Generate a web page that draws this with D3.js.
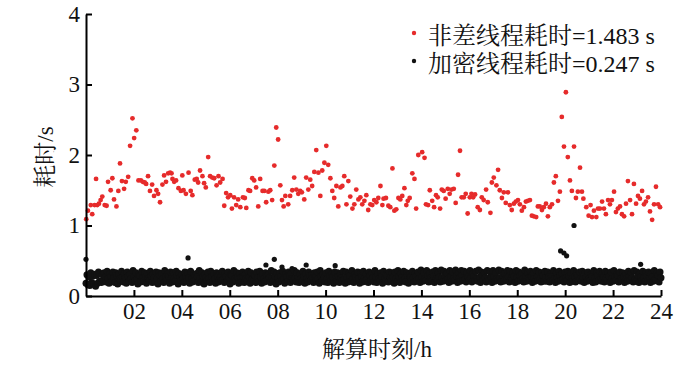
<!DOCTYPE html>
<html>
<head>
<meta charset="utf-8">
<script src="https://cdn.jsdelivr.net/npm/d3@7"></script>
<style>
  body { margin: 0; background: #fff; }
  svg { display: block; }
  svg text { font-family: "Liberation Serif", "Noto Serif CJK SC", "Noto Sans CJK SC", serif; fill: #111; }
</style>
</head>
<body>
<div id="chart"></div>
<script>
// Red series (非差线程): time of day in hours and cost in seconds
const redTimes = [
  0.01, 0.08, 0.20, 0.26, 0.36, 0.47, 0.42, 0.54, 0.61, 0.68, 0.78, 0.86, 0.92, 1.03, 1.10, 1.17, 1.27, 1.35, 1.42, 1.50,
  1.59, 1.66, 1.76, 1.84, 1.94, 2.01, 2.10, 2.19, 2.29, 2.37, 2.45, 2.51, 2.59, 2.67, 2.76, 2.84, 2.94, 3.01, 3.09, 3.19,
  3.26, 3.34, 3.43, 3.51, 3.57, 3.61, 3.68, 3.76, 3.86, 3.96, 4.02, 4.07,
  4.17, 4.28, 4.37, 4.44, 4.54, 4.62, 4.68, 4.76, 4.86, 4.93, 5.00, 5.10, 5.18, 5.27, 5.35, 5.45, 5.53, 5.60, 5.70, 5.77,
  5.85, 5.93, 6.02, 6.09, 6.18, 6.27, 6.35, 6.44, 6.55, 6.63, 6.69, 6.78, 6.85, 6.94, 7.02, 7.10, 7.19, 7.27, 7.37, 7.44,
  7.52, 7.61, 7.69, 7.77, 7.86, 7.94, 8.02, 8.11, 8.18, 8.25,
  8.32, 8.44, 8.52, 8.61, 8.69, 8.78, 8.86, 8.94, 9.01, 9.11, 9.19, 9.28, 9.36, 9.44, 9.53, 9.61, 9.70, 9.78, 9.86, 9.95,
  10.03, 10.11, 10.20, 10.28, 10.36, 10.45, 10.53, 10.62, 10.70, 10.78, 10.87, 10.95, 11.03, 11.12, 11.20, 11.28, 11.37,
  11.45, 11.53, 11.62, 11.70, 11.78, 11.87, 11.95, 12.03, 12.12, 12.20, 12.29, 12.37, 12.42,
  12.52, 12.62, 12.70, 12.79, 12.87, 12.95, 13.04, 13.12, 13.20, 13.29, 13.37, 13.43, 13.51, 13.62, 13.71, 13.78, 13.87,
  14.03, 14.13, 14.19, 14.28, 14.35, 14.45, 14.53, 14.61, 14.68, 14.78, 14.85, 14.93, 15.01, 15.10, 15.18, 15.25, 15.35,
  15.43, 15.53, 15.61, 15.68, 15.77, 15.85, 15.93, 16.02, 16.09, 16.16, 16.24, 16.35, 16.44, 16.52, 16.60,
  16.70, 16.77, 16.88, 16.94, 17.02, 17.13, 17.20, 17.27, 17.36, 17.44, 17.52, 17.61, 17.69, 17.77, 17.86, 17.94, 18.03,
  18.11, 18.19, 18.28, 18.36, 18.44, 18.53, 18.61, 18.69, 18.79, 18.86, 18.94, 19.03, 19.11, 19.20, 19.28, 19.36, 19.45,
  19.53, 19.61, 19.70, 19.78, 19.86, 19.95, 20.03, 20.11, 20.20, 20.28, 20.37, 20.45, 20.53, 20.62, 20.70, 20.76,
  20.88, 20.98, 21.06, 21.12, 21.20, 21.30, 21.37, 21.45, 21.54, 21.62, 21.70, 21.79, 21.87, 21.95, 22.04, 22.12, 22.20,
  22.29, 22.37, 22.46, 22.54, 22.62, 22.71, 22.79, 22.87, 22.96, 23.04, 23.12, 23.21, 23.29, 23.37, 23.46, 23.54, 23.63,
  23.71, 23.79, 23.88, 23.96
];
const redValues = [
  1.09, 1.21, 1.29, 1.16, 1.29, 1.29, 1.66, 1.31, 1.36, 1.41, 1.29, 1.28, 1.62, 1.50, 1.67, 1.37, 1.27, 1.49, 1.88, 1.63,
  1.52, 1.62, 1.69, 2.13, 2.52, 2.24, 2.35, 1.64, 1.64, 1.62, 1.61, 1.59, 1.70, 1.49, 1.58, 1.42, 1.50, 1.45, 1.33, 1.58,
  1.71, 1.62, 1.74, 1.75, 1.74, 1.66, 1.62, 1.64, 1.53, 1.49, 1.71, 1.50,
  1.45, 1.75, 1.49, 1.43, 1.65, 1.66, 1.61, 1.78, 1.70, 1.60, 1.54, 1.97, 1.70, 1.68, 1.67, 1.57, 1.70, 1.61, 1.66, 1.28,
  1.46, 1.40, 1.43, 1.24, 1.40, 1.29, 1.37, 1.26, 1.40, 1.39, 1.25, 1.50, 1.49, 1.67, 1.64, 1.54, 1.27, 1.66, 1.49, 1.49,
  1.33, 1.48, 1.50, 1.36, 1.85, 2.39, 2.22, 1.57, 1.36, 1.27,
  1.42, 1.30, 1.42, 1.50, 1.68, 1.51, 1.45, 1.49, 1.47, 1.37, 1.68, 1.51, 1.65, 1.56, 1.76, 2.07, 1.75, 1.42, 1.78, 1.89,
  2.13, 1.86, 1.67, 1.49, 1.39, 1.56, 1.27, 1.54, 1.56, 1.70, 1.30, 1.63, 1.41, 1.24, 1.30, 1.51, 1.37,
  1.40, 1.30, 1.35, 1.43, 1.22, 1.30, 1.29, 1.36, 1.33, 1.39, 1.56, 1.29, 1.38,
  1.39, 1.28, 1.26, 1.81, 1.21, 1.23, 1.39, 1.37, 1.42, 1.53, 1.29, 1.35, 1.39, 1.74, 1.66, 1.24, 2.00,
  2.04, 1.96, 1.30, 1.29, 1.50, 1.35, 1.26, 1.43, 1.40, 1.24, 1.51, 1.49, 1.38, 1.52, 1.45, 1.51, 1.52,
  1.32, 1.72, 2.06, 1.40, 1.40, 1.45, 1.17, 1.40, 1.45, 1.40, 1.44, 1.26, 1.22, 1.40, 1.36,
  1.51, 1.33, 1.18, 1.61, 1.68, 1.57, 1.79, 1.50, 1.39, 1.47, 1.32, 1.47, 1.29, 1.22, 1.31, 1.34, 1.36,
  1.30, 1.21, 1.26, 1.34, 1.35, 1.36, 1.14, 1.13, 1.12, 1.27, 1.27, 1.22, 1.26, 1.31, 1.13, 1.26, 1.30,
  1.61, 1.70, 1.35, 1.48, 2.54, 2.12, 2.89, 1.97, 1.64, 1.49, 2.12, 1.39, 1.48, 1.82, 1.48, 1.38,
  1.26, 1.14, 1.29, 1.12, 1.21, 1.12, 1.24, 1.24, 1.34, 1.24, 1.16, 1.36, 1.30, 1.36, 1.48, 1.19, 1.24,
  1.27, 1.16, 1.13, 1.31, 1.63, 1.36, 1.16, 1.59, 1.31, 1.42, 1.38, 1.49, 1.30, 1.34, 1.40, 1.20, 1.08,
  1.30, 1.55, 1.30, 1.26
];

// Black series (加密线程): evenly spaced samples over the day, cost in 1/100 s
const blackValues = (
  "18 30 16 27 15 33 19 28 17 31 14 29 18 34 21 32 19 30 22 33 " +
  "27 20 35 25 18 32 28 21 34 26 19 33 29 17 31 24 22 35 27 20 " +
  "32 26 18 34 28 21 31 25 19 36 27 22 33 24 17 30 29 20 35 26 " +
  "21 33 27 18 32 25 22 35 28 19 31 26 20 34 24 17 33 29 21 32 " +
  "25 19 36 27 22 31 28 18 34 26 20 33 24 21 35 29 17 32 27 22 " +
  "30 25 19 34 28 21 33 26 18 35 24 20 31 29 22 32 27 19 36 25 " +
  "20 33 28 17 31 26 22 34 25 19 35 27 21 32 24 18 33 29 20 31 " +
  "27 22 35 24 19 32 28 21 34 26 17 31 29 20 36 25 22 33 27 18 " +
  "32 26 20 34 28 19 31 25 22 35 27 18 33 24 21 30 29 19 34 26 " +
  "21 35 27 18 32 24 20 33 29 22 31 26 19 36 25 21 34 28 17 32 " +
  "26 20 33 28 22 35 24 18 31 27 21 34 29 19 32 25 22 36 26 20 " +
  "33 27 19 31 25 21 35 28 18 32 24 20 34 29 22 30 26 19 33 27 " +
  "22 34 25 18 36 28 21 31 26 20 33 24 19 35 29 22 32 27 18 34 " +
  "25 21 33 28 19 31 26 22 35 24 18 34 27 20 32 29 21 36 25 19 " +
  "31 27 22 34 25 18 33 28 20 35 26 21 31 24 19 34 29 22 32 26 " +
  "20 36 27 19 32 25 22 33 28 18 35 24 21 31 29 20 34 26 22 33 " +
  "27 18 34 25 21 36 28 19 32 26 22 35 24 20 33 29 18 31 27 21 " +
  "35 26 20 32 28 22 34 25 19 37 27 21 33 24 22 36 29 20 32 26 " +
  "21 34 28 19 36 25 22 33 27 20 37 26 21 35 29 22 32 24 19 36 " +
  "27 21 34 25 22 37 28 19 33 26 21 36 29 22 35 24 20 33 27 22 " +
  "36 26 20 32 28 22 35 25 21 37 27 19 34 29 22 33 26 20 36 25 " +
  "22 34 27 19 36 28 21 33 25 22 37 26 20 35 29 21 32 24 22 36 " +
  "27 20 35 25 22 33 28 19 36 26 21 34 29 22 32 25 20 37 27 21 " +
  "33 26 22 35 28 19 32 25 21 36 27 22 34 24 20 33 29 21 35 26 " +
  "21 34 27 20 31 28 22 36 25 19 33 26 21 35 29 22 32 24 20 34 " +
  "26 22 35 28 19 33 25 21 36 27 20 32 29 22 34 24 21 35 26 19 " +
  "33 27 21 34 25 22 31 28 19 36 26 20 33 29 22 35 24 21 32 27 " +
  "20 35 26 22 33 28 19 34 25 21 36 27 22 31 29 20 34 24 22 33 " +
  "27 19 32 25 21 35 28 22 33 26 20 36 24 21 34 29 19 32 27 22 " +
  "35 26 20 33 28 22 34 25 19 32 27 21 36 24 22 33 29 20 34 26"
).split(" ").map(d => +d / 100);

// Black outliers above the band
const blackOutTimes = [0.0, 4.26, 7.51, 7.86, 8.18, 8.60, 9.19, 10.40, 19.81, 19.95, 20.06, 20.37, 23.15];
const blackOutValues = [0.52, 0.54, 0.44, 0.52, 0.41, 0.39, 0.44, 0.43, 0.64, 0.61, 0.57, 1.00, 0.45];

const xTicks = [2, 4, 6, 8, 10, 12, 14, 16, 18, 20, 22, 24];
const yTicks = [0, 1, 2, 3, 4];
const legendLabels = ["非差线程耗时=1.483 s", "加密线程耗时=0.247 s"];

const width = 700, height = 366;
const margin = { top: 14, right: 39, bottom: 70, left: 86 };
const red = "#e62b2b", black = "#111";

const svg = d3.select("#chart").append("svg")
  .attr("width", width)
  .attr("height", height);

const x = d3.scaleLinear().domain([0, 24]).range([margin.left, width - margin.right]);
const y = d3.scaleLinear().domain([0, 4]).range([height - margin.bottom, margin.top]);

// black band first, red on top
svg.append("g").selectAll("circle")
  .data(blackValues.map((v, i) => ({ t: 24 * i / (blackValues.length - 1), v })))
  .join("circle")
  .attr("cx", d => x(d.t))
  .attr("cy", d => y(d.v))
  .attr("r", 3.5)
  .attr("fill", black);

svg.append("g").selectAll("circle")
  .data(blackOutTimes.map((t, i) => ({ t, v: blackOutValues[i] })))
  .join("circle")
  .attr("cx", d => x(d.t))
  .attr("cy", d => y(d.v))
  .attr("r", 2.6)
  .attr("fill", black);

svg.append("g").selectAll("circle")
  .data(redTimes.map((t, i) => ({ t, v: redValues[i] })))
  .join("circle")
  .attr("cx", d => x(d.t))
  .attr("cy", d => y(d.v))
  .attr("r", 2.4)
  .attr("fill", red);

// axes, ticks pointing inward
const xAxis = svg.append("g")
  .attr("transform", `translate(0,${height - margin.bottom})`)
  .call(d3.axisBottom(x).tickValues(xTicks).tickSizeInner(-6).tickSizeOuter(0)
    .tickPadding(7).tickFormat(d3.format("02d")));

const yAxis = svg.append("g")
  .attr("transform", `translate(${margin.left},0)`)
  .call(d3.axisLeft(y).tickValues(yTicks).tickSizeInner(-6).tickSizeOuter(0)
    .tickPadding(6).tickFormat(d3.format("d")));

[xAxis, yAxis].forEach(g => {
  g.attr("font-family", null);
  g.selectAll("path, line").attr("stroke", "#000").attr("stroke-width", 2);
  g.selectAll("text").attr("fill", null).style("font-size", "23px");
});

// axis titles
svg.append("text")
  .attr("x", 377).attr("y", 357)
  .attr("text-anchor", "middle")
  .style("font-size", "23px")
  .text("解算时刻/h");

svg.append("text")
  .attr("transform", "translate(53,157) rotate(-90)")
  .attr("text-anchor", "middle")
  .style("font-size", "23px")
  .text("耗时/s");

// legend
const legend = svg.append("g");
[red, black].forEach((c, i) => {
  legend.append("circle")
    .attr("cx", 414).attr("cy", 33 + i * 28)
    .attr("r", 2.2).attr("fill", c);
  legend.append("text")
    .attr("x", 428).attr("y", 44 + i * 28)
    .style("font-size", "24px")
    .text(legendLabels[i]);
});
</script>
</body>
</html>
